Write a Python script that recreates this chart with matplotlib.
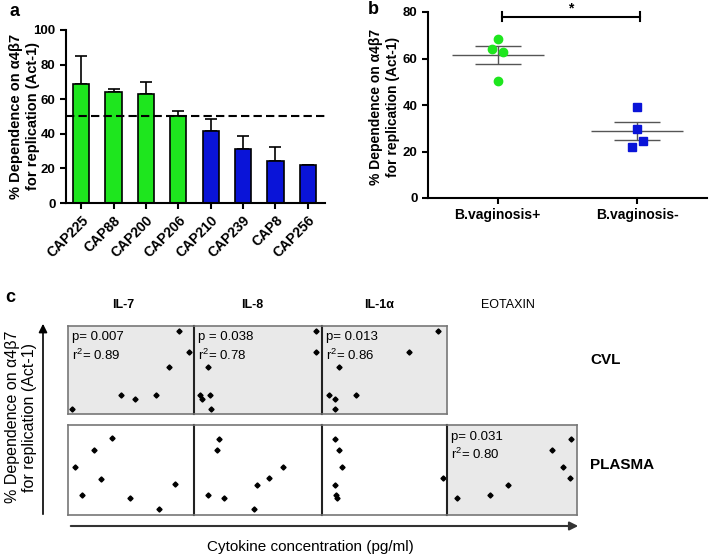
import numpy as np
import matplotlib
matplotlib.use("Agg")
import matplotlib.pyplot as plt

plt.rcParams['font.family'] = ['Liberation Sans', 'DejaVu Sans']
plt.rcParams['mathtext.fontset'] = 'custom'
plt.rcParams['mathtext.rm'] = 'Liberation Sans'

# ---- panel a data ----
isolates = ['CAP225', 'CAP88', 'CAP200', 'CAP206', 'CAP210', 'CAP239', 'CAP8', 'CAP256']
dependence = [69, 64, 63, 50.5, 41.5, 31.5, 24.5, 22]
dependence_err = [16, 2, 7, 2.5, 7, 7.5, 8, 0]
bar_groups = ['pos', 'pos', 'pos', 'pos', 'neg', 'neg', 'neg', 'neg']

# ---- panel b data ----
bv_labels = ['B.vaginosis+', 'B.vaginosis-']
bv_pos = [68.5, 64, 63, 50.5]
bv_pos_jitter = [0, -0.04, 0.04, 0]
bv_neg = [39.2, 29.5, 24.5, 22]
bv_neg_jitter = [0, 0, 0.04, -0.04]

# ---- panel c data (relative positions within each cell) ----
cytokines = ['IL-7', 'IL-8', 'IL-1α', 'EOTAXIN']
compartments = ['CVL', 'PLASMA']
cvl_points = {
    'IL-7': ([0.02, 0.42, 0.53, 0.70, 0.81, 0.89, 0.97],
             [0.04, 0.20, 0.16, 0.20, 0.53, 0.96, 0.71]),
    'IL-8': ([0.04, 0.05, 0.10, 0.12, 0.125, 0.96, 0.96],
             [0.20, 0.16, 0.53, 0.20, 0.04, 0.96, 0.71]),
    'IL-1α': ([0.045, 0.095, 0.10, 0.13, 0.27, 0.70, 0.94],
              [0.20, 0.16, 0.04, 0.53, 0.20, 0.71, 0.96]),
}
plasma_points = {
    'IL-7': ([0.045, 0.10, 0.20, 0.26, 0.35, 0.49, 0.73, 0.86],
             [0.53, 0.21, 0.73, 0.40, 0.87, 0.18, 0.05, 0.34]),
    'IL-8': ([0.10, 0.17, 0.19, 0.23, 0.47, 0.49, 0.59, 0.70],
             [0.21, 0.73, 0.86, 0.18, 0.05, 0.33, 0.41, 0.53]),
    'IL-1α': ([0.10, 0.13, 0.15, 0.10, 0.105, 0.115, 0.98],
              [0.86, 0.73, 0.53, 0.33, 0.21, 0.18, 0.41]),
    'EOTAXIN': ([0.07, 0.33, 0.47, 0.81, 0.90, 0.96, 0.955],
                [0.18, 0.21, 0.33, 0.73, 0.53, 0.86, 0.41]),
}
stats = {
    ('CVL', 'IL-7'): ('p= 0.007', '0.89'),
    ('CVL', 'IL-8'): ('p = 0.038', '0.78'),
    ('CVL', 'IL-1α'): ('p= 0.013', '0.86'),
    ('PLASMA', 'EOTAXIN'): ('p= 0.031', '0.80'),
}

GREEN = '#1ee61e'
BLUE = '#0a14d8'
W, H = 709, 556
YLABEL = '% Dependence on α4β7\nfor replication (Act-1)'


def fig_rect(x0, y0, x1, y1):
    """pixel box (top-left origin) -> figure fraction rect"""
    return [x0 / W, 1 - y1 / H, (x1 - x0) / W, (y1 - y0) / H]


def style_prism(ax):
    for side in ['top', 'right']:
        ax.spines[side].set_visible(False)
    for side in ['left', 'bottom']:
        ax.spines[side].set_linewidth(1.5)
    ax.tick_params(width=1.5, length=4)
    ax.tick_params(axis='y', labelsize=9.5)
    ax.tick_params(axis='x', labelsize=10)
    for lab in ax.get_yticklabels() + ax.get_xticklabels():
        lab.set_fontweight('bold')


fig = plt.figure(figsize=(W / 100, H / 100), dpi=100)

# ---------------- panel a ----------------
ax_a = fig.add_axes(fig_rect(66, 30, 325, 203))
x = np.arange(len(isolates))
colors = [GREEN if g == 'pos' else BLUE for g in bar_groups]
ax_a.bar(x, dependence, width=0.5, color=colors, edgecolor='black', linewidth=1.2, zorder=2)
ax_a.errorbar(x, dependence, yerr=[np.zeros(len(x)), dependence_err], fmt='none',
              ecolor='black', elinewidth=1.2, capsize=4, capthick=1.2, zorder=1)
ax_a.axhline(50, color='black', linestyle=(0, (4, 2)), linewidth=1.5, zorder=3)
ax_a.set_xlim(-0.47, 7.53)
ax_a.set_ylim(0, 100)
ax_a.set_yticks([0, 20, 40, 60, 80, 100])
ax_a.set_xticks(x)
ax_a.set_xticklabels(isolates, rotation=45, ha='right', rotation_mode='anchor')
ax_a.set_ylabel(YLABEL, fontsize=10.5, fontweight='bold', linespacing=1.3)
ax_a.yaxis.set_label_coords(-0.10, 0.5)
style_prism(ax_a)
fig.text(10 / W, 1 - 12 / H, 'a', fontsize=13, fontweight='bold', va='center')

# ---------------- panel b ----------------
ax_b = fig.add_axes(fig_rect(428, 12, 707, 198))
for i, (vals, jit, col, mk) in enumerate([(bv_pos, bv_pos_jitter, GREEN, 'o'),
                                          (bv_neg, bv_neg_jitter, BLUE, 's')]):
    vals = np.array(vals)
    ax_b.plot(i + np.array(jit), vals, linestyle='none', marker=mk, markersize=6,
              color=col, zorder=3)
    m = vals.mean()
    sem = vals.std(ddof=1) / np.sqrt(len(vals))
    ax_b.hlines(m, i - 0.33, i + 0.33, color='#555555', linewidth=1)
    ax_b.hlines([m - sem, m + sem], i - 0.165, i + 0.165, color='#555555', linewidth=1)
    ax_b.vlines(i, m - sem, m + sem, color='#555555', linewidth=1)
ax_b.plot([0.03, 1.02], [78, 78], color='black', linewidth=1.5, clip_on=False)
ax_b.plot([0.03, 0.03], [76, 80], color='black', linewidth=1.5, clip_on=False)
ax_b.plot([1.02, 1.02], [76, 80], color='black', linewidth=1.5, clip_on=False)
ax_b.text(0.525, 81.5, '*', ha='center', va='center', fontsize=10, fontweight='bold')
ax_b.set_xlim(-0.5, 1.5)
ax_b.set_ylim(0, 80)
ax_b.set_yticks([0, 20, 40, 60, 80])
ax_b.set_xticks([0, 1])
ax_b.set_xticklabels(bv_labels)
ax_b.set_ylabel(YLABEL, fontsize=10, fontweight='bold', linespacing=1.3)
ax_b.yaxis.set_label_coords(-0.10, 0.49)
style_prism(ax_b)
fig.text(368 / W, 1 - 10 / H, 'b', fontsize=13, fontweight='bold', va='center')

# ---------------- panel c ----------------
col_edges = [68, 194, 322, 447, 577]
row_edges = {'CVL': (326, 414), 'PLASMA': (425, 515)}
for comp, pts in [('CVL', cvl_points), ('PLASMA', plasma_points)]:
    y0, y1 = row_edges[comp]
    for j, cyt in enumerate(cytokines):
        if cyt not in pts:
            continue
        ax = fig.add_axes(fig_rect(col_edges[j], y0, col_edges[j + 1], y1))
        shaded = (comp, cyt) in stats
        ax.set_facecolor('#e9e9e9' if shaded else 'white')
        px, py = pts[cyt]
        ax.plot(px, py, linestyle='none', marker='D', markersize=2.6, color='black')
        ax.set_xlim(-0.01, 1.01)
        ax.set_ylim(-0.02, 1.02)
        ax.set_xticks([])
        ax.set_yticks([])
        for s in ax.spines.values():
            s.set_color('#777777')
            s.set_linewidth(1.2)
        if j > 0:
            ax.spines['left'].set_color('#222222')
            ax.spines['left'].set_linewidth(1.5)
        if shaded:
            p_txt, r_val = stats[(comp, cyt)]
            ax.text(0.03, 0.87, p_txt, transform=ax.transAxes, fontsize=9.5, va='center')
            ax.text(0.03, 0.67, r'$\mathregular{r^{2}}$= ' + r_val, transform=ax.transAxes,
                    fontsize=9.5, va='center')

title_x = [123, 252, 379, 508]
for cyt, tx in zip(cytokines, title_x):
    fig.text(tx / W, 1 - 305 / H, cyt, ha='center', va='center', fontsize=9,
             fontweight='normal' if cyt == 'EOTAXIN' else 'bold')
fig.text(590 / W, 1 - 360 / H, 'CVL', fontsize=11, fontweight='bold', va='center')
fig.text(590 / W, 1 - 465 / H, 'PLASMA', fontsize=11, fontweight='bold', va='center')

fig.add_artist(matplotlib.patches.FancyArrowPatch(
    (43 / W, 1 - 517 / H), (43 / W, 1 - 321 / H), transform=fig.transFigure,
    arrowstyle='-|>,head_length=5,head_width=2.5', color='black', linewidth=1.2))
fig.add_artist(matplotlib.patches.FancyArrowPatch(
    (68 / W, 1 - 526 / H), (581 / W, 1 - 526 / H), transform=fig.transFigure,
    arrowstyle='-|>,head_length=5,head_width=2.5', color='#333333', linewidth=1.5))
fig.text(21 / W, 1 - 417 / H, YLABEL, rotation=90,
         ha='center', va='center', fontsize=11.5, linespacing=1.15)
fig.text(310 / W, 1 - 547 / H, 'Cytokine concentration (pg/ml)', ha='center', va='center',
         fontsize=11)
fig.text(5 / W, 1 - 297 / H, 'c', fontsize=13, fontweight='bold', va='center')

fig.savefig('out.png', dpi=100)
